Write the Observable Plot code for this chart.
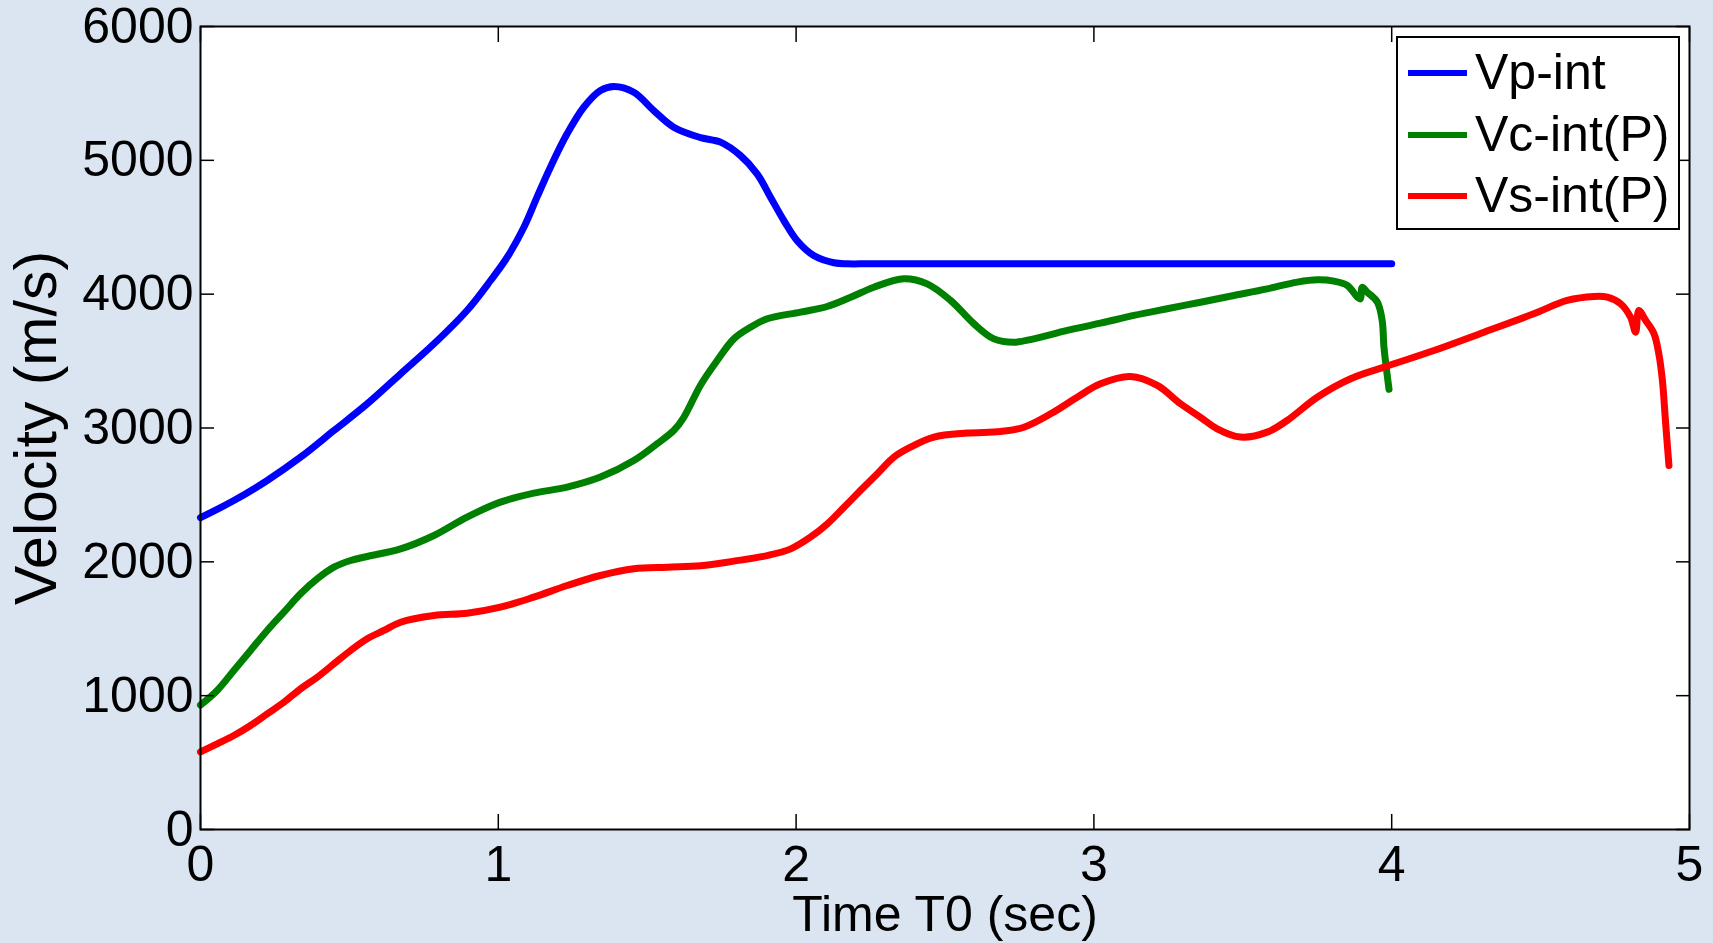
<!DOCTYPE html>
<html>
<head>
<meta charset="utf-8">
<script src="https://cdn.jsdelivr.net/npm/d3@7"></script>
<script src="https://cdn.jsdelivr.net/npm/@observablehq/plot@0.6"></script>
<style>
  html, body { margin: 0; padding: 0; background: #dbe5f1; }
  #wrap { position: relative; width: 1713px; height: 943px; }
  #legend {
    position: absolute; left: 1396px; top: 36px; width: 284px; height: 194px;
    box-sizing: border-box; border: 2px solid #000; background: #fff;
    font-family: "Liberation Sans", Arial, sans-serif; font-size: 50px; color: #000;
  }
  .item { position: absolute; left: 0; height: 0; }
  .swatch { position: absolute; left: 10px; width: 59px; height: 6px; top: -3px; }
  .name { position: absolute; left: 77px; top: 0; transform: translateY(-52%); white-space: nowrap; line-height: 1; }
</style>
</head>
<body>
<div id="wrap"></div>
<script>
// Interval velocities against two-way time T0
const seriesNames = ["Vp-int", "Vc-int(P)", "Vs-int(P)"];
const seriesColors = ["#0000ff", "#008000", "#ff0000"];

const vpTime = [0, 0.112, 0.224, 0.336, 0.448, 0.56, 0.672, 0.784, 0.895, 0.974, 1.03, 1.086, 1.13, 1.175, 1.231, 1.287, 1.343, 1.388, 1.455, 1.522, 1.589, 1.679, 1.746, 1.813, 1.869, 1.914, 1.959, 2.003, 2.059, 2.127, 2.172, 2.25, 3.0, 4.0];
const vpVel  = [2330, 2458, 2608, 2782, 2981, 3181, 3405, 3629, 3878, 4102, 4276, 4500, 4725, 4949, 5198, 5397, 5522, 5552, 5509, 5372, 5248, 5170, 5136, 5036, 4899, 4725, 4550, 4401, 4289, 4235, 4227, 4227, 4227, 4227];

const vcTime = [0, 0.056, 0.112, 0.168, 0.224, 0.28, 0.336, 0.392, 0.448, 0.504, 0.56, 0.672, 0.784, 0.895, 1.007, 1.119, 1.231, 1.343, 1.455, 1.533, 1.589, 1.623, 1.679, 1.735, 1.791, 1.847, 1.903, 2.015, 2.104, 2.183, 2.261, 2.362, 2.44, 2.519, 2.597, 2.664, 2.731, 2.798, 2.91, 3.022, 3.134, 3.246, 3.358, 3.47, 3.582, 3.683, 3.75, 3.806, 3.851, 3.885, 3.895, 3.901, 3.918, 3.952, 3.968, 3.974, 3.983, 3.991];
const vcVel  = [930, 1039, 1188, 1338, 1487, 1624, 1761, 1873, 1960, 2010, 2040, 2097, 2197, 2334, 2446, 2513, 2558, 2633, 2757, 2882, 2981, 3080, 3320, 3504, 3666, 3753, 3816, 3866, 3908, 3977, 4052, 4115, 4077, 3953, 3779, 3666, 3641, 3666, 3729, 3783, 3841, 3891, 3940, 3990, 4040, 4090, 4107, 4097, 4065, 3977, 3965, 4052, 4015, 3940, 3803, 3604, 3429, 3290];

const vsTime = [0, 0.056, 0.112, 0.168, 0.224, 0.28, 0.336, 0.392, 0.448, 0.504, 0.56, 0.616, 0.672, 0.784, 0.895, 1.007, 1.119, 1.231, 1.343, 1.455, 1.567, 1.679, 1.791, 1.903, 1.982, 2.048, 2.105, 2.161, 2.216, 2.272, 2.328, 2.384, 2.463, 2.575, 2.687, 2.765, 2.855, 2.944, 3.022, 3.123, 3.213, 3.291, 3.358, 3.414, 3.492, 3.582, 3.649, 3.75, 3.862, 3.974, 4.142, 4.31, 4.477, 4.589, 4.679, 4.724, 4.769, 4.802, 4.819, 4.83, 4.853, 4.881, 4.897, 4.909, 4.92, 4.931];
const vsVel  = [580, 640, 702, 777, 864, 951, 1051, 1138, 1238, 1338, 1425, 1487, 1549, 1599, 1616, 1661, 1736, 1823, 1898, 1948, 1960, 1970, 2005, 2047, 2097, 2184, 2284, 2408, 2533, 2657, 2782, 2857, 2932, 2962, 2974, 3006, 3106, 3230, 3330, 3385, 3318, 3181, 3080, 2994, 2932, 2969, 3056, 3230, 3368, 3455, 3579, 3716, 3853, 3953, 3983, 3978, 3928, 3828, 3716, 3878, 3803, 3704, 3554, 3355, 3032, 2720];

const xTicks = [0, 1, 2, 3, 4, 5];
const yTicks = [0, 1000, 2000, 3000, 4000, 5000, 6000];

const toRows = (name, ts, vs) => ts.map((t, i) => ({series: name, t, v: vs[i]}));
const rows = [
  ...toRows(seriesNames[0], vpTime, vpVel),
  ...toRows(seriesNames[1], vcTime, vcVel),
  ...toRows(seriesNames[2], vsTime, vsVel)
];

const chart = Plot.plot({
  width: 1713,
  height: 943,
  marginLeft: 200,
  marginRight: 24,
  marginTop: 26,
  marginBottom: 114,
  style: {background: "#dbe5f1", fontFamily: "'Liberation Sans', Arial, sans-serif", fontSize: "50px", color: "#000", overflow: "visible"},
  x: {domain: [0, 5]},
  y: {domain: [0, 6000]},
  color: {domain: seriesNames, range: seriesColors},
  marks: [
    Plot.frame({fill: "#fff", stroke: null}),
    Plot.line(rows, {x: "t", y: "v", z: "series", stroke: "series", strokeWidth: 7, curve: "catmull-rom", strokeLinejoin: "round"}),
    Plot.frame({stroke: "#000", strokeWidth: 2}),
    Plot.axisX({ticks: xTicks, anchor: "bottom", tickSize: 0, tickPadding: 16, tickFormat: d => String(d), label: null}),
    Plot.axisX({ticks: xTicks, anchor: "bottom", tickSize: -15, strokeWidth: 1.5, text: null, label: null}),
    Plot.axisX({ticks: xTicks, anchor: "top", tickSize: -15, strokeWidth: 1.5, text: null, label: null}),
    Plot.axisY({ticks: yTicks, anchor: "left", tickSize: 0, tickPadding: 7, tickFormat: d => String(d), label: null}),
    Plot.axisY({ticks: yTicks, anchor: "left", tickSize: -14, strokeWidth: 1.5, text: null, label: null}),
    Plot.axisY({ticks: yTicks, anchor: "right", tickSize: -14, strokeWidth: 1.5, text: null, label: null}),
    Plot.text(["Time T0 (sec)"], {frameAnchor: "bottom", dy: 66, lineAnchor: "top", textAnchor: "middle", fontSize: 50}),
    Plot.text(["Velocity (m/s)"], {frameAnchor: "left", dx: -186, rotate: -90, lineAnchor: "top", textAnchor: "middle", fontSize: 59})
  ]
});

const wrap = document.getElementById("wrap");
wrap.appendChild(chart);

// Legend box in the upper-right corner of the plot area
const legend = d3.select(wrap).append("div").attr("id", "legend");
const rowY = [35, 97, 158];
seriesNames.forEach((name, i) => {
  const item = legend.append("div").attr("class", "item").style("top", rowY[i] + "px");
  item.append("div").attr("class", "swatch").style("background", seriesColors[i]);
  item.append("div").attr("class", "name").text(name);
});
</script>
</body>
</html>
